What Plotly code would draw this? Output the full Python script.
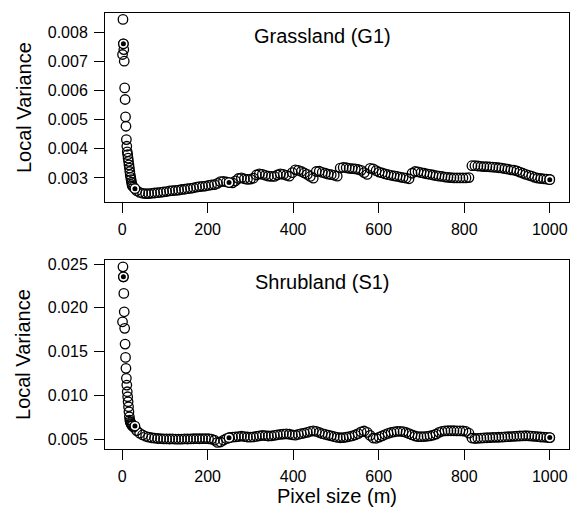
import plotly.graph_objects as go

# ---------------- data ----------------
# fine pixel sizes at the start of each series (m)
early_size = [1, 2, 3, 4, 5, 6, 7, 8, 9, 10, 11, 12, 13, 14, 15, 16, 17, 18, 19, 20, 21, 22, 23, 24]
# coarser pixel sizes (m), 27 to 1000 every 7 m
main_size = list(range(27, 1001, 7))

grass_early = [0.00725, 0.00846, 0.00762, 0.00742, 0.00702, 0.00610, 0.00570, 0.00510,
               0.00478, 0.00432, 0.00409, 0.00390, 0.00380, 0.00368, 0.00357, 0.00345,
               0.00334, 0.00322, 0.00311, 0.00302, 0.00294, 0.00285, 0.00277, 0.00272]
grass_main = [
    0.00268, 0.00256, 0.00250, 0.00247, 0.00246, 0.00246, 0.00247, 0.00248, 0.00249, 0.00250,
    0.00252, 0.00253, 0.00255, 0.00256, 0.00257, 0.00258, 0.00260, 0.00261, 0.00263, 0.00264,
    0.00266, 0.00268, 0.00270, 0.00271, 0.00272, 0.00274, 0.00276, 0.00277, 0.00281, 0.00287,
    0.00288, 0.00286, 0.00284, 0.00283, 0.00290, 0.00298, 0.00300, 0.00297, 0.00295, 0.00296,
    0.00299, 0.00310, 0.00314, 0.00312, 0.00309, 0.00306, 0.00305, 0.00305, 0.00310, 0.00314,
    0.00312, 0.00309, 0.00306, 0.00318, 0.00328, 0.00326, 0.00322, 0.00317, 0.00312, 0.00305,
    0.00299, 0.00322, 0.00323, 0.00319, 0.00316, 0.00313, 0.00311, 0.00309, 0.00306, 0.00334,
    0.00336, 0.00335, 0.00333, 0.00332, 0.00331, 0.00329, 0.00326, 0.00318, 0.00312, 0.00333,
    0.00331, 0.00325, 0.00320, 0.00317, 0.00314, 0.00311, 0.00309, 0.00307, 0.00305, 0.00303,
    0.00301, 0.00299, 0.00297, 0.00316, 0.00322, 0.00321, 0.00318, 0.00316, 0.00314, 0.00312,
    0.00310, 0.00308, 0.00306, 0.00305, 0.00303, 0.00302, 0.00301, 0.00300, 0.00300, 0.00300,
    0.00300, 0.00300, 0.00301, 0.00342, 0.00342, 0.00341, 0.00340, 0.00339, 0.00339, 0.00338,
    0.00337, 0.00336, 0.00335, 0.00334, 0.00332, 0.00330, 0.00328, 0.00327, 0.00324, 0.00320,
    0.00316, 0.00312, 0.00309, 0.00306, 0.00302, 0.00299, 0.00298, 0.00297, 0.00296, 0.00295]

shrub_early = [0.01841, 0.02468, 0.02354, 0.02165, 0.01955, 0.01766, 0.01587, 0.01435,
               0.01310, 0.01196, 0.01119, 0.01043, 0.00986, 0.00929, 0.00872, 0.00815,
               0.00758, 0.00720, 0.00700, 0.00690, 0.00680, 0.00670, 0.00660, 0.00655]
shrub_main = [
    0.00640, 0.00600, 0.00570, 0.00550, 0.00535, 0.00525, 0.00518, 0.00513, 0.00510, 0.00508,
    0.00506, 0.00505, 0.00504, 0.00505, 0.00503, 0.00502, 0.00503, 0.00505, 0.00504, 0.00505,
    0.00507, 0.00508, 0.00507, 0.00508, 0.00509, 0.00507, 0.00503, 0.00490, 0.00465, 0.00470,
    0.00490, 0.00508, 0.00518, 0.00525, 0.00528, 0.00532, 0.00536, 0.00532, 0.00527, 0.00525,
    0.00528, 0.00534, 0.00540, 0.00545, 0.00542, 0.00538, 0.00540, 0.00546, 0.00552, 0.00556,
    0.00560, 0.00562, 0.00558, 0.00552, 0.00548, 0.00556, 0.00565, 0.00572, 0.00580, 0.00590,
    0.00596, 0.00590, 0.00578, 0.00566, 0.00556, 0.00548, 0.00540, 0.00530, 0.00522, 0.00518,
    0.00520, 0.00526, 0.00532, 0.00540, 0.00550, 0.00565, 0.00585, 0.00595, 0.00580, 0.00545,
    0.00515, 0.00512, 0.00525, 0.00540, 0.00555, 0.00568, 0.00578, 0.00585, 0.00590, 0.00592,
    0.00588, 0.00578, 0.00565, 0.00550, 0.00538, 0.00530, 0.00530, 0.00532, 0.00535, 0.00540,
    0.00548, 0.00560, 0.00580, 0.00592, 0.00597, 0.00598, 0.00598, 0.00598, 0.00597, 0.00596,
    0.00595, 0.00590, 0.00570, 0.00515, 0.00510, 0.00512, 0.00514, 0.00516, 0.00518, 0.00520,
    0.00522, 0.00523, 0.00524, 0.00526, 0.00528, 0.00530, 0.00532, 0.00534, 0.00536, 0.00538,
    0.00540, 0.00541, 0.00540, 0.00537, 0.00534, 0.00530, 0.00527, 0.00525, 0.00522, 0.00520]

# highlighted sensor pixel sizes
hl_size = [3, 30, 250, 1000]
grass_hl = [0.00762, 0.00263, 0.00284, 0.00294]
shrub_hl = [0.02354, 0.00652, 0.00518, 0.00520]

panel_titles = ["Grassland (G1)", "Shrubland (S1)"]
x_ticks = [0, 200, 400, 600, 800, 1000]
grass_yticks = [0.003, 0.004, 0.005, 0.006, 0.007, 0.008]
shrub_yticks = [0.005, 0.010, 0.015, 0.020, 0.025]

# ---------------- figure ----------------
FONT = "Liberation Sans, Arial, sans-serif"
fig = go.Figure()

panels = [
    ("x", "y", grass_early + grass_main, grass_hl),
    ("x2", "y2", shrub_early + shrub_main, shrub_hl),
]
for xa, ya, vals, hl in panels:
    fig.add_trace(go.Scatter(
        x=early_size + main_size, y=vals, xaxis=xa, yaxis=ya, mode="markers",
        marker=dict(symbol="circle-open", size=9.5, color="black", line=dict(width=1.3, color="black")),
        showlegend=False, hoverinfo="x+y"))
    fig.add_trace(go.Scatter(
        x=hl_size, y=hl, xaxis=xa, yaxis=ya, mode="markers",
        marker=dict(symbol="circle", size=9.5, color="white", line=dict(width=1.3, color="black")),
        showlegend=False, hoverinfo="skip"))
    fig.add_trace(go.Scatter(
        x=hl_size, y=hl, xaxis=xa, yaxis=ya, mode="markers",
        marker=dict(symbol="circle", size=5, color="black", line=dict(width=0)),
        showlegend=False, hoverinfo="skip"))

axis_common = dict(showline=True, mirror=True, linecolor="black", linewidth=1,
                   ticks="outside", ticklen=10, tickwidth=1, tickcolor="black",
                   showgrid=False, zeroline=False,
                   tickfont=dict(family=FONT, size=16, color="black"))

fig.update_layout(
    width=577, height=515,
    margin=dict(l=105, r=8, t=13, b=66),
    paper_bgcolor="white", plot_bgcolor="white",
    font=dict(family=FONT, color="black"),
    xaxis=dict(domain=[0, 1], anchor="y", range=[-40, 1045], tickvals=x_ticks,
               ticklabelstandoff=3, **axis_common),
    yaxis=dict(domain=[0.5665, 1], anchor="x", range=[0.00217, 0.00868],
               tickvals=grass_yticks, tickformat=".3f", ticklabelstandoff=3, **axis_common),
    xaxis2=dict(domain=[0, 1], anchor="y2", range=[-40, 1045], tickvals=x_ticks,
                ticklabelstandoff=3, **axis_common),
    yaxis2=dict(domain=[0, 0.4335], anchor="x2", range=[0.0039, 0.02546],
                tickvals=shrub_yticks, tickformat=".3f", ticklabelstandoff=3, **axis_common),
)

ann_font = dict(family=FONT, size=20, color="black")
annotations = [
    dict(text=panel_titles[0], x=0.4698, y=0.947, xref="paper", yref="paper",
         xanchor="center", yanchor="middle", showarrow=False, font=ann_font),
    dict(text=panel_titles[1], x=0.4698, y=0.383, xref="paper", yref="paper",
         xanchor="center", yanchor="middle", showarrow=False, font=ann_font),
    dict(text="Local Variance", x=-0.1756, y=0.7832, xref="paper", yref="paper",
         xanchor="center", yanchor="middle", textangle=-90, showarrow=False, font=ann_font),
    dict(text="Local Variance", x=-0.1756, y=0.2168, xref="paper", yref="paper",
         xanchor="center", yanchor="middle", textangle=-90, showarrow=False, font=ann_font),
    dict(text="Pixel size (m)", x=0.5, y=-0.1078, xref="paper", yref="paper",
         xanchor="center", yanchor="middle", showarrow=False, font=ann_font),
]
fig.update_layout(annotations=annotations)

fig.write_html("out.html")
